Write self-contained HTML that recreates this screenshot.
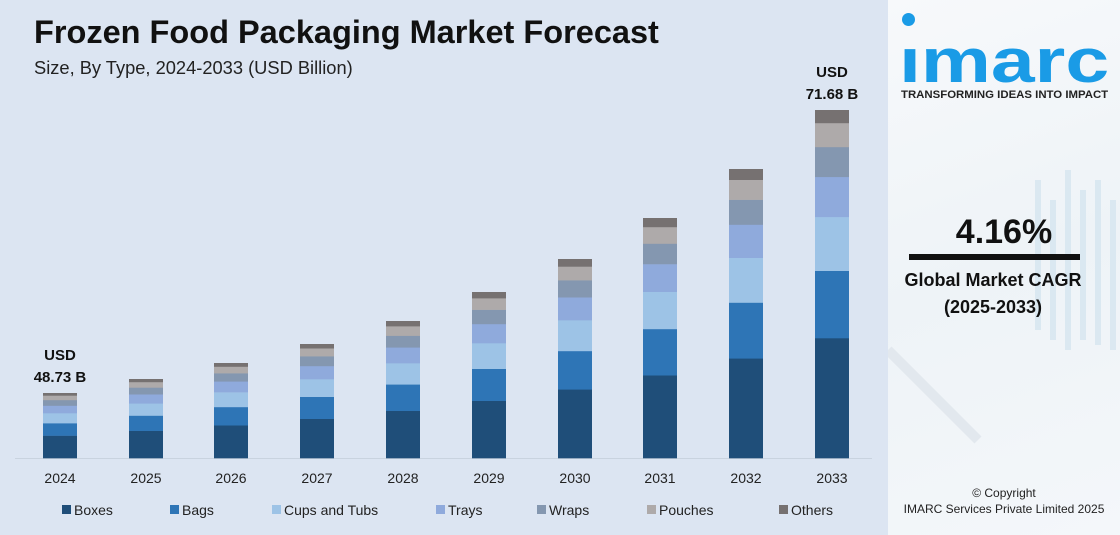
<!DOCTYPE html>
<html><head><meta charset="utf-8"><style>
body{margin:0;width:1120px;height:535px;overflow:hidden;font-family:"Liberation Sans",Arial,sans-serif;background:#fff;position:relative}
.main{position:absolute;left:0;top:0;width:888px;height:535px;background:#dce5f2}
.side{position:absolute;left:888px;top:0;width:232px;height:535px;background:linear-gradient(160deg,#f7f9fb 0%,#eef3f7 50%,#f4f7fa 100%)}
.t{position:absolute;white-space:nowrap}
</style></head><body>
<div class="main">
<div class="t" style="left:34px;top:14px;font-size:32.5px;font-weight:bold;color:#111">Frozen Food Packaging Market Forecast</div>
<div class="t" style="left:34px;top:57px;font-size:18.3px;color:#222">Size, By Type, 2024-2033 (USD Billion)</div>
<svg id="ch" width="888" height="535" style="position:absolute;left:0;top:0"></svg>
</div>
<div class="side">
<svg width="232" height="535" style="position:absolute;left:0;top:0">
<g stroke="#d6e6f0" stroke-width="6" opacity="0.8">
<line x1="150" y1="180" x2="150" y2="330"/><line x1="165" y1="200" x2="165" y2="340"/><line x1="180" y1="170" x2="180" y2="350"/><line x1="195" y1="190" x2="195" y2="340"/><line x1="210" y1="180" x2="210" y2="345"/><line x1="225" y1="200" x2="225" y2="350"/>
</g>
<line x1="0" y1="350" x2="90" y2="440" stroke="#e2e8ee" stroke-width="10"/>
</svg>
<div style="position:absolute;left:14px;top:13px;width:13px;height:13px;border-radius:50%;background:#1a9be6"></div>
<div class="t" style="left:11px;top:31px;font-size:62px;font-weight:bold;color:#1a9be6;line-height:62px;transform-origin:0 0;transform:scaleX(1.27)">ımarc</div>
<div class="t" style="left:13px;top:89px;font-size:11.4px;font-weight:bold;color:#222">TRANSFORMING IDEAS INTO IMPACT</div>
<div class="t" style="left:0;width:232px;text-align:center;top:213px;font-size:34px;font-weight:bold;color:#111">4.16%</div>
<div style="position:absolute;left:21px;top:254px;width:171px;height:6px;background:#111"></div>
<div class="t" style="left:0;width:210px;text-align:center;top:270px;font-size:18px;font-weight:bold;color:#111">Global Market CAGR</div>
<div class="t" style="left:0;width:210px;text-align:center;top:297px;font-size:18px;font-weight:bold;color:#111">(2025-2033)</div>
<div class="t" style="left:0;width:232px;text-align:center;top:486px;font-size:12px;color:#222">© Copyright</div>
<div class="t" style="left:0;width:232px;text-align:center;top:502px;font-size:12px;color:#222">IMARC Services Private Limited 2025</div>
</div>
<script>
var s='',cols=['#1f4e79','#2e75b6','#9dc3e6','#8faadc','#8497b0','#aeaaaa','#767171'];
var pr=[.345,.193,.155,.115,.086,.069,.037];
var cx=[60,146,231,317,403,489,575,660,746,832],tops=[393,379,363,344,321,292,259,218,169,110];
var base=458;
s+='<line x1="15" y1="458.5" x2="872" y2="458.5" stroke="#c9d3df" stroke-width="1"/>';
for(var i=0;i<10;i++){var h=base-tops[i],y=base;
for(var k=0;k<7;k++){var sh=h*pr[k];y-=sh;s+='<rect x="'+(cx[i]-17)+'" y="'+y.toFixed(1)+'" width="34" height="'+(sh+0.3).toFixed(1)+'" fill="'+cols[k]+'"/>';}
s+='<text x="'+cx[i]+'" y="483" font-size="14" text-anchor="middle" fill="#222">'+(2024+i)+'</text>';}
s+='<text x="60" y="360" font-size="15" font-weight="bold" text-anchor="middle" fill="#111">USD</text><text x="60" y="382" font-size="15" font-weight="bold" text-anchor="middle" fill="#111">48.73 B</text>';
s+='<text x="832" y="77" font-size="15" font-weight="bold" text-anchor="middle" fill="#111">USD</text><text x="832" y="99" font-size="15" font-weight="bold" text-anchor="middle" fill="#111">71.68 B</text>';
var lg=[['Boxes',62],['Bags',170],['Cups and Tubs',272],['Trays',436],['Wraps',537],['Pouches',647],['Others',779]];
for(var k=0;k<7;k++){s+='<rect x="'+lg[k][1]+'" y="505" width="9" height="9" fill="'+cols[k]+'"/><text x="'+(lg[k][1]+12)+'" y="515" font-size="14" fill="#222">'+lg[k][0]+'</text>';}
document.getElementById('ch').innerHTML=s;
</script>
</body></html>
